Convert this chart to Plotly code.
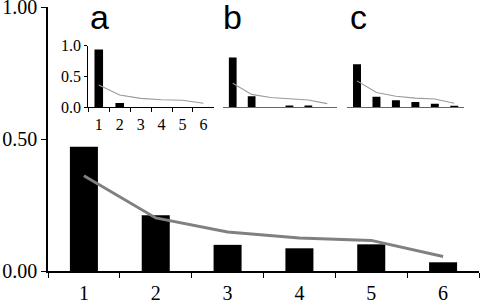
import plotly.graph_objects as go

categories = ["1", "2", "3", "4", "5", "6"]

main_bars = [0.471, 0.211, 0.099, 0.086, 0.101, 0.033]
main_line = [0.361, 0.201, 0.148, 0.125, 0.116, 0.055]

a_bars = [0.94, 0.07, 0.0, 0.0, 0.0, 0.0]
a_line = [0.362, 0.200, 0.146, 0.123, 0.114, 0.065]

b_bars = [0.81, 0.18, 0.0, 0.03, 0.03, 0.0]
b_line = [0.39, 0.21, 0.16, 0.135, 0.12, 0.06]

c_bars = [0.70, 0.17, 0.114, 0.086, 0.058, 0.026]
c_line = [0.43, 0.24, 0.18, 0.15, 0.135, 0.065]

main_yticks = [0.0, 0.5, 1.0]
inset_yticks = [0.0, 0.5, 1.0]
panel_labels = ["a", "b", "c"]

SERIF = "Liberation Serif"
SANS = "Liberation Sans"

fig = go.Figure()

# main chart
fig.add_trace(go.Bar(x=categories, y=main_bars, width=0.39, marker_color="black",
                     marker_line_width=0, xaxis="x", yaxis="y"))
fig.add_trace(go.Scatter(x=categories, y=main_line, mode="lines",
                         line=dict(color="#808080", width=3), xaxis="x", yaxis="y"))

insets = [(a_bars, a_line, "2"), (b_bars, b_line, "3"), (c_bars, c_line, "4")]
for bars, line, n in insets:
    fig.add_trace(go.Bar(x=categories, y=bars, width=0.41, marker_color="black",
                         marker_line_width=0, xaxis="x" + n, yaxis="y" + n))
    fig.add_trace(go.Scatter(x=categories, y=line, mode="lines",
                             line=dict(color="#9a9a9a", width=1.1),
                             xaxis="x" + n, yaxis="y" + n))

fig.update_layout(
    width=480, height=300,
    margin=dict(l=48, r=1, t=7, b=29),
    paper_bgcolor="white", plot_bgcolor="rgba(0,0,0,0)",
    showlegend=False,
    xaxis=dict(type="category", domain=[0, 1], tickson="boundaries", ticks="outside",
               ticklen=5, tickcolor="black", tickwidth=1.3, showline=True,
               linecolor="black", linewidth=1.5, showgrid=False, zeroline=False,
               ticklabeloverflow="allow", ticklabelstandoff=3, automargin=False,
               tickfont=dict(family=SERIF, size=20, color="black")),
    yaxis=dict(range=[0, 1], domain=[0, 1], tickvals=main_yticks, tickformat=".2f",
               ticks="outside", ticklen=5, tickcolor="black", tickwidth=1.3,
               showline=True, linecolor="black", linewidth=1.5, showgrid=False,
               zeroline=False, ticklabeloverflow="allow", automargin=False,
               tickfont=dict(family=SERIF, size=20, color="black")),
)

inset_x_domains = [[0.0935, 0.385], [0.4067, 0.6698], [0.6944, 0.9652]]
inset_y_domain = [0.620, 0.853]

# inset a: full axes
fig.update_layout(
    xaxis2=dict(type="category", domain=inset_x_domains[0], anchor="y2",
                tickson="boundaries", ticks="outside", ticklen=4, tickcolor="black",
                tickwidth=1, showline=True, linecolor="black", linewidth=1,
                showgrid=False, zeroline=False, ticklabeloverflow="allow",
                ticklabelstandoff=2, automargin=False,
                tickfont=dict(family=SERIF, size=16, color="black")),
    yaxis2=dict(range=[0, 1], domain=inset_y_domain, anchor="x2", tickvals=inset_yticks,
                tickformat=".1f", ticks="outside", ticklen=3, tickcolor="black",
                tickwidth=1, showline=True, linecolor="black", linewidth=1,
                showgrid=False, zeroline=False, ticklabeloverflow="allow",
                automargin=False,
                tickfont=dict(family=SERIF, size=16, color="black")),
)
for i, n in enumerate(["3", "4"]):
    fig.update_layout(**{
        "xaxis" + n: dict(type="category", domain=inset_x_domains[i + 1], anchor="y" + n,
                          showticklabels=False, ticks="", showline=True,
                          linecolor="#666666", linewidth=1, showgrid=False,
                          zeroline=False, automargin=False),
        "yaxis" + n: dict(range=[0, 1], domain=inset_y_domain, anchor="x" + n,
                          visible=False, showgrid=False, zeroline=False,
                          automargin=False),
    })

label_x = [0.1206, 0.4292, 0.7193]
for lab, lx in zip(panel_labels, label_x):
    fig.add_annotation(text=lab, x=lx, y=0.962, xref="paper", yref="paper",
                       xanchor="center", yanchor="middle", showarrow=False,
                       font=dict(family=SANS, size=34, color="black"))

fig.write_html("out.html", config={"displayModeBar": False},
               post_script="document.body.style.margin='0';")
